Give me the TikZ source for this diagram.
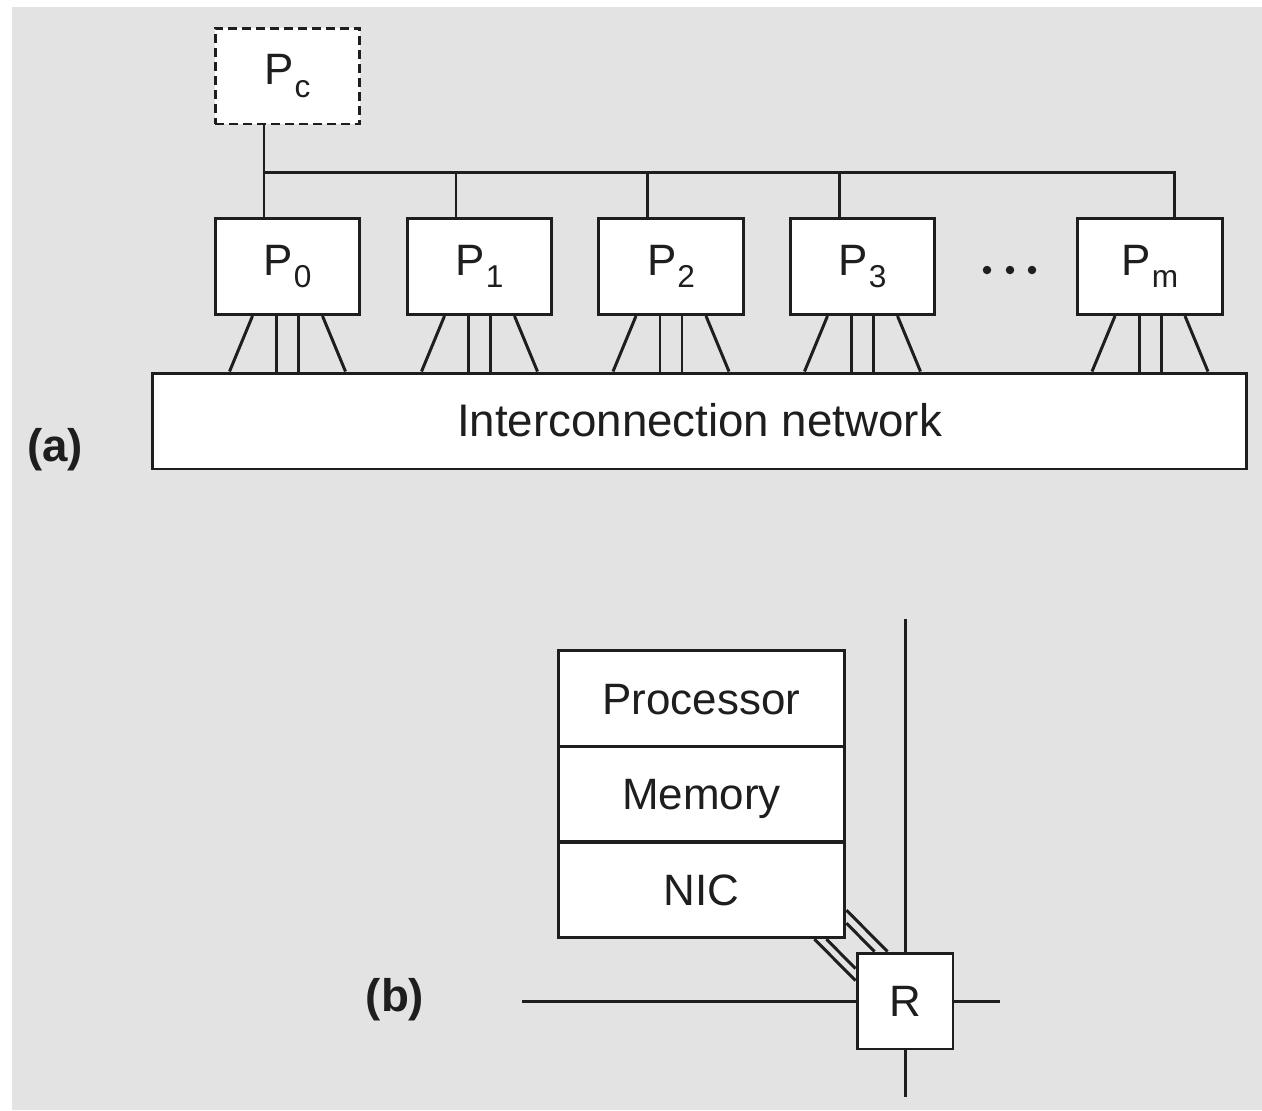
\documentclass[tikz,border=0pt]{standalone}
\usepackage{fontspec}
\setmainfont{Liberation Sans}
\usetikzlibrary{calc}
\pgfdeclarelayer{bg}
\pgfdeclarelayer{back}
\pgfsetlayers{bg,back,main}
\definecolor{bggray}{HTML}{E3E3E3}
\definecolor{ink}{HTML}{1E1E1E}
\newcommand\Psub[1]{P\kern0.5pt\raisebox{-7pt}{\fontsize{18}{18}\selectfont #1}}
\tikzset{
  wire/.style={draw=ink,line width=1.7pt},
  box/.style={draw=ink,line width=1.7pt,fill=white,minimum width=2.9cm,minimum height=1.92cm,inner sep=0pt,text=ink,font=\fontsize{25}{30}\selectfont},
  cell/.style={box,minimum width=5.74cm,minimum height=1.91cm,text height=18pt,text depth=0pt},
  lbl/.style={text=ink,font=\fontsize{26}{30}\selectfont\bfseries},
  dashbox/.style={box,dash pattern=on 0.18cm off 0.1cm}}
\begin{document}
\begin{tikzpicture}[x=0.02cm,y=-0.02cm]
\useasboundingbox (0,0) rectangle (1262,1110);
\begin{pgfonlayer}{bg}
  \fill[bggray] (12,7) rectangle (1262,1110);
\end{pgfonlayer}

% ---------- (a) ----------
\node[dashbox] (pc) at (287.5,76) {\Psub{c}};
\node[box] (p0) at (287.5,266.5) {\Psub{0}};
\node[box] (p1) at (479.5,266.5) {\Psub{1}};
\node[box] (p2) at (671,266.5) {\Psub{2}};
\node[box] (p3) at (862.5,266.5) {\Psub{3}};
\node[box] (pm) at (1150,266.5) {\Psub{m}};
\node[box,minimum width=21.9cm,text height=18pt,text depth=-3pt,font=\fontsize{26}{30}\selectfont] (net) at (699.5,421) {Interconnection network};
\node[lbl] (la) at (55,450) {(a)};

\fill[ink] (987,270) circle (0.085cm);
\fill[ink] (1010,270) circle (0.085cm);
\fill[ink] (1032,270) circle (0.085cm);

\draw[wire] ($(pc.south)+(-23.5,0)$) -- ($(p0.north)+(-23.5,0)$);
\coordinate (busL) at (264,172);
\coordinate (dm) at ($(pm.north)+(24,0)$);
\draw[wire] (busL) -| (dm);
\foreach \p/\o in {p1/-23.5,p2/-23.5,p3/-23.5}{
  \coordinate (d) at ($(\p.north)+(\o,0)$);
  \draw[wire] (d) -- (d |- busL);
}
\foreach \p in {p0,p1,p2,p3,pm}{
  \foreach \t/\b in {-35/-58,-11/-11,11/11,35/58}{
    \coordinate (legT) at ($(\p.south)+(\t,0)$);
    \coordinate (legB) at ($(\p.south)+(\b,0)$);
    \draw[wire] (legT) -- (legB |- net.north);
  }
}

% ---------- (b) ----------
\node[cell] (proc) at (701.5,698.5) {Processor};
\node[cell] (mem) at (701.5,794) {Memory};
\node[cell] (nic) at (701.5,890) {NIC};
\node[box,minimum width=1.92cm] (r) at (905,1001) {R};
\node[lbl] (lb) at (395,1000) {(b)};

\coordinate (vt) at (905,619);
\coordinate (vb) at (905,1097);
\coordinate (hl) at (522,1001);
\coordinate (hr) at (1000,1001);
\draw[wire] (vt) -- (r.north);
\draw[wire] (r.south) -- (vb);
\draw[wire] (hl) -- (r.west);
\draw[wire] (r.east) -- (hr);

\begin{pgfonlayer}{back}
  \draw[wire] ($(nic.south east)+(0,-29)$) -- ($(r.north west)+(32,0)$);
  \draw[wire] ($(nic.south east)+(0,-16)$) -- ($(r.north west)+(19,0)$);
  \draw[wire] ($(nic.south east)+(-20,0)$) -- ($(r.north west)+(0,17)$);
  \draw[wire] ($(nic.south east)+(-32,0)$) -- ($(r.north west)+(0,29)$);
\end{pgfonlayer}
\end{tikzpicture}
\end{document}
